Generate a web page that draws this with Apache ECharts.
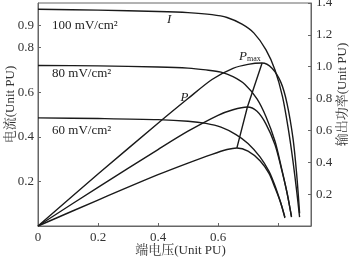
<!DOCTYPE html>
<html><head><meta charset="utf-8">
<script src="https://cdn.jsdelivr.net/npm/echarts@6/dist/echarts.min.js"></script>
<style>html,body{margin:0;padding:0;background:#fff}#c{width:350px;height:259px}</style>
</head><body><div id="c"></div>
<script>
// I-V curves: [voltage PU, current PU]
const i100 = [[0,0.972],[0.2,0.968],[0.4,0.962],[0.5,0.957],[0.58,0.948],[0.63,0.935],[0.68,0.905],[0.72,0.865],[0.76,0.79],[0.79,0.7],[0.815,0.58],[0.835,0.43],[0.85,0.29],[0.862,0.16],[0.872,0.04]];
const i80 = [[0,0.72],[0.2,0.718],[0.4,0.713],[0.5,0.708],[0.56,0.7],[0.61,0.69],[0.65,0.67],[0.69,0.635],[0.73,0.57],[0.76,0.49],[0.79,0.38],[0.81,0.27],[0.83,0.15],[0.845,0.04]];
const i60 = [[0,0.485],[0.2,0.482],[0.4,0.477],[0.5,0.47],[0.56,0.46],[0.61,0.443],[0.66,0.41],[0.7,0.37],[0.74,0.31],[0.77,0.245],[0.79,0.18],[0.81,0.1],[0.823,0.04]];
// P-V curves: [voltage PU, power PU]
const p100 = [[0,0],[0.2,0.326],[0.4,0.645],[0.5,0.80],[0.58,0.92],[0.65,0.99],[0.7,1.015],[0.747,1.023],[0.78,0.99],[0.81,0.9],[0.83,0.77],[0.85,0.55],[0.862,0.33],[0.872,0.08]];
const p80 = [[0,0],[0.2,0.243],[0.4,0.48],[0.5,0.595],[0.6,0.695],[0.65,0.73],[0.698,0.747],[0.73,0.72],[0.76,0.64],[0.79,0.51],[0.81,0.37],[0.83,0.21],[0.845,0.06]];
const p60 = [[0,0],[0.2,0.163],[0.4,0.322],[0.5,0.395],[0.58,0.45],[0.63,0.48],[0.663,0.49],[0.7,0.47],[0.74,0.41],[0.77,0.33],[0.79,0.24],[0.81,0.14],[0.823,0.05]];
// maximum power point locus
const mppLocus = [[0.747,1.023],[0.698,0.747],[0.663,0.49]];
// tick labels
const xLabels = [0,0.2,0.4,0.6];
const xTicks = [0.2,0.4,0.6,0.8];
const leftLabels = [0.2,0.4,0.6,0.8,0.9];
const rightLabels = [0.2,0.4,0.6,0.8,1.0,1.2,1.4];
// annotations: [text, voltage, current-axis value]
const notes = [
  ['100 mV/cm²',0.047,0.897],
  ['80 mV/cm²',0.047,0.682],
  ['60 mV/cm²',0.047,0.426]
];

const serif = '"Liberation Serif","Noto Serif CJK SC","Noto Sans CJK SC",serif';
const axisCol = '#666';
const lineCol = '#1a1a1a';
const chart = echarts.init(document.getElementById('c'), null, {renderer:'canvas'});
function ser(data, yi){
  return {type:'line', data, yAxisIndex:yi, smooth:0.3, symbol:'none',
    lineStyle:{color:lineCol,width:1.4}, silent:true, animation:false};
}
chart.setOption({
  animation:false,
  backgroundColor:'#fff',
  grid:{left:38,right:39,top:3,bottom:33,show:true,borderColor:axisCol,borderWidth:1,
    containLabel:false,outerBoundsMode:'none'},
  xAxis:{type:'value',min:0,max:0.91,
    name:'端电压(Unit PU)',nameLocation:'middle',nameGap:18,nameMoveOverlap:false,
    nameTextStyle:{fontFamily:serif,fontSize:13,color:'#333',padding:[0,0,0,12]},
    axisLine:{lineStyle:{color:axisCol}},
    axisTick:{inside:true,length:3,customValues:xTicks,lineStyle:{color:axisCol}},
    axisLabel:{customValues:xLabels,margin:5,fontFamily:serif,fontSize:13,color:'#333',
      formatter:v=>String(v)},
    splitLine:{show:false}},
  yAxis:[
    {type:'value',min:0,max:1.0,position:'left',
     name:'电流(Unit PU)',nameLocation:'middle',nameGap:21,nameRotate:90,nameMoveOverlap:false,
     nameTextStyle:{fontFamily:serif,fontSize:13,color:'#333',padding:[0,0,0,20]},
     axisLine:{show:true,lineStyle:{color:axisCol}},
     axisTick:{show:true,inside:true,length:3,customValues:leftLabels,lineStyle:{color:axisCol}},
     axisLabel:{customValues:leftLabels,margin:4,fontFamily:serif,fontSize:13,color:'#333',
       formatter:v=>String(v)},
     splitLine:{show:false}},
    {type:'value',min:0,max:1.4,position:'right',
     name:'输出功率(Unit PU)',nameLocation:'middle',nameGap:25,nameRotate:90,nameMoveOverlap:false,
     nameTextStyle:{fontFamily:serif,fontSize:13,color:'#333',padding:[0,0,0,40]},
     axisLine:{show:true,lineStyle:{color:axisCol}},
     axisTick:{show:true,inside:true,length:3,customValues:rightLabels,lineStyle:{color:axisCol}},
     axisLabel:{customValues:rightLabels,margin:5,fontFamily:serif,fontSize:13,color:'#333',
       formatter:v=>v.toFixed(1)},
     splitLine:{show:false}}
  ],
  series:[ser(i100,0),ser(i80,0),ser(i60,0),ser(p100,1),ser(p80,1),ser(p60,1),
    Object.assign(ser(mppLocus,1),{smooth:false})]
});
const g = [];
notes.forEach(n=>{
  const p = chart.convertToPixel({xAxisIndex:0,yAxisIndex:0},[n[1],n[2]]);
  g.push({type:'text',x:p[0],y:p[1],style:{text:n[0],font:'13px '+serif,fill:'#222',textVerticalAlign:'middle'}});
});
const pI = chart.convertToPixel({xAxisIndex:0,yAxisIndex:0},[0.43,0.925]);
g.push({type:'text',x:pI[0],y:pI[1],style:{text:'I',font:'italic 13px '+serif,fill:'#222',textVerticalAlign:'middle'}});
const pP = chart.convertToPixel({xAxisIndex:0,yAxisIndex:0},[0.475,0.575]);
g.push({type:'text',x:pP[0],y:pP[1],style:{text:'P',font:'italic 13px '+serif,fill:'#222',textVerticalAlign:'middle'}});
const pM = chart.convertToPixel({xAxisIndex:0,yAxisIndex:1},[0.67,1.065]);
g.push({type:'text',x:pM[0],y:pM[1],style:{
  rich:{a:{font:'italic 13px '+serif,fill:'#222'},b:{font:'8px '+serif,fill:'#222',verticalAlign:'bottom',padding:[6,0,0,0]}},
  text:'{a|P}{b|max}',fill:'#222',textVerticalAlign:'middle'}});
chart.setOption({graphic:g});
</script></body></html>
